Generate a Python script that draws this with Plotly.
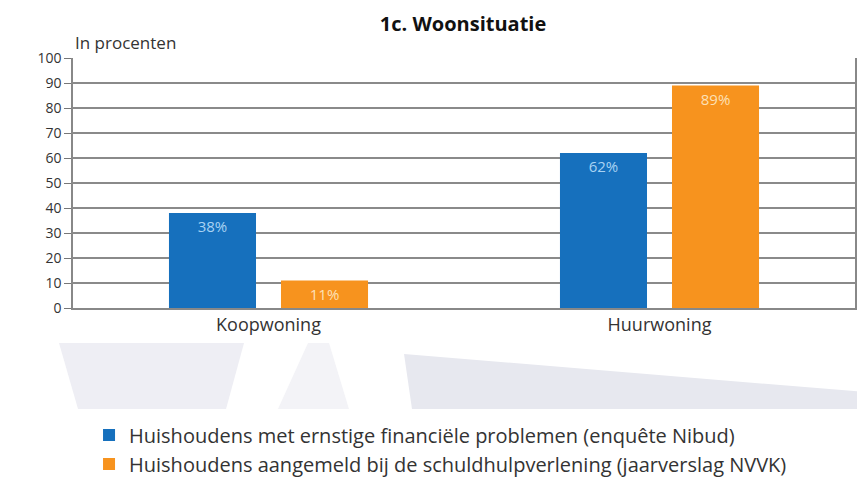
import plotly.graph_objects as go

categories = ["Koopwoning", "Huurwoning"]
series_names = [
    "Huishoudens met ernstige financiële problemen (enquête Nibud)",
    "Huishoudens aangemeld bij de schuldhulpverlening (jaarverslag NVVK)",
]
nibud_values = [38, 62]
nvvk_values = [11, 89]
y_ticks = [0, 10, 20, 30, 40, 50, 60, 70, 80, 90, 100]

BLUE = "#1670BD"
ORANGE = "#F7931E"
FONT = "Open Sans"

fig = go.Figure()
fig.add_trace(go.Bar(
    x=categories, y=nibud_values, name=series_names[0],
    marker=dict(color=BLUE, line=dict(width=0)),
    text=[f"{v}%" for v in nibud_values], textposition="inside",
    insidetextanchor="end", textangle=0,
    insidetextfont=dict(color="#a9d3f3", size=15, family=FONT),
))
fig.add_trace(go.Bar(
    x=categories, y=nvvk_values, name=series_names[1],
    marker=dict(color=ORANGE, line=dict(width=0)),
    text=[f"{v}%" for v in nvvk_values], textposition="inside",
    insidetextanchor="end", textangle=0,
    insidetextfont=dict(color="#fde0b6", size=15, family=FONT),
))

# page body has an 8px default margin; plot area spans screen x 73..855, y 58..308
def px_x(p):
    return (p - 73) / 782

def px_y(p):
    return (308 - p) / 250

def poly(pts):
    return "M " + " L ".join(f"{px_x(a):.4f},{px_y(b):.4f}" for a, b in pts) + " Z"

shapes = [
    dict(type="path", xref="paper", yref="paper", layer="below",
         path=poly([(59, 343), (244, 343), (226, 409), (78, 409)]),
         fillcolor="#eeeef4", line=dict(width=0)),
    dict(type="path", xref="paper", yref="paper", layer="below",
         path=poly([(308, 343), (329, 343), (349, 409), (278, 409)]),
         fillcolor="#f3f3f7", line=dict(width=0)),
    dict(type="path", xref="paper", yref="paper", layer="below",
         path=poly([(404, 354), (865, 392), (865, 409), (412, 409)]),
         fillcolor="#e7e8ef", line=dict(width=0)),
]

fig.update_layout(
    width=857, height=470,
    margin=dict(l=65, r=10, t=50, b=170, autoexpand=False),
    paper_bgcolor="white", plot_bgcolor="white",
    font=dict(family=FONT, color="#333333"),
    barmode="group", bargap=0.427, bargroupgap=0.223,
    title=dict(text="<b>1c. Woonsituatie</b>", x=0.531, xanchor="center",
               y=0.966, yanchor="middle",
               font=dict(size=20, color="#111111", family=FONT)),
    shapes=shapes,
    annotations=[dict(text="In procenten", xref="paper", yref="paper",
                      x=0.0, y=px_y(43), xanchor="left", yanchor="middle",
                      showarrow=False,
                      font=dict(size=17, color="#333333", family=FONT))],
    legend=dict(orientation="v", x=0.0205, y=-0.43, xanchor="left", yanchor="top",
                font=dict(size=20, color="#333333", family=FONT),
                itemwidth=30, bgcolor="rgba(0,0,0,0)"),
    showlegend=True,
)
fig.update_yaxes(
    range=[0, 100], tickvals=y_ticks, ticks="outside", ticklen=7,
    tickcolor="#777777", showgrid=True, gridcolor="#8a8a8a", gridwidth=1.5,
    showline=True, linecolor="#888888", linewidth=1.5, mirror=True,
    zeroline=False, tickfont=dict(size=14, color="#333333", family=FONT),
    fixedrange=True,
)
fig.update_xaxes(
    showline=True, linecolor="#888888", linewidth=1.5,
    ticks="", tickfont=dict(size=18, color="#333333", family=FONT),
    fixedrange=True,
)

fig.write_html("out.html")
